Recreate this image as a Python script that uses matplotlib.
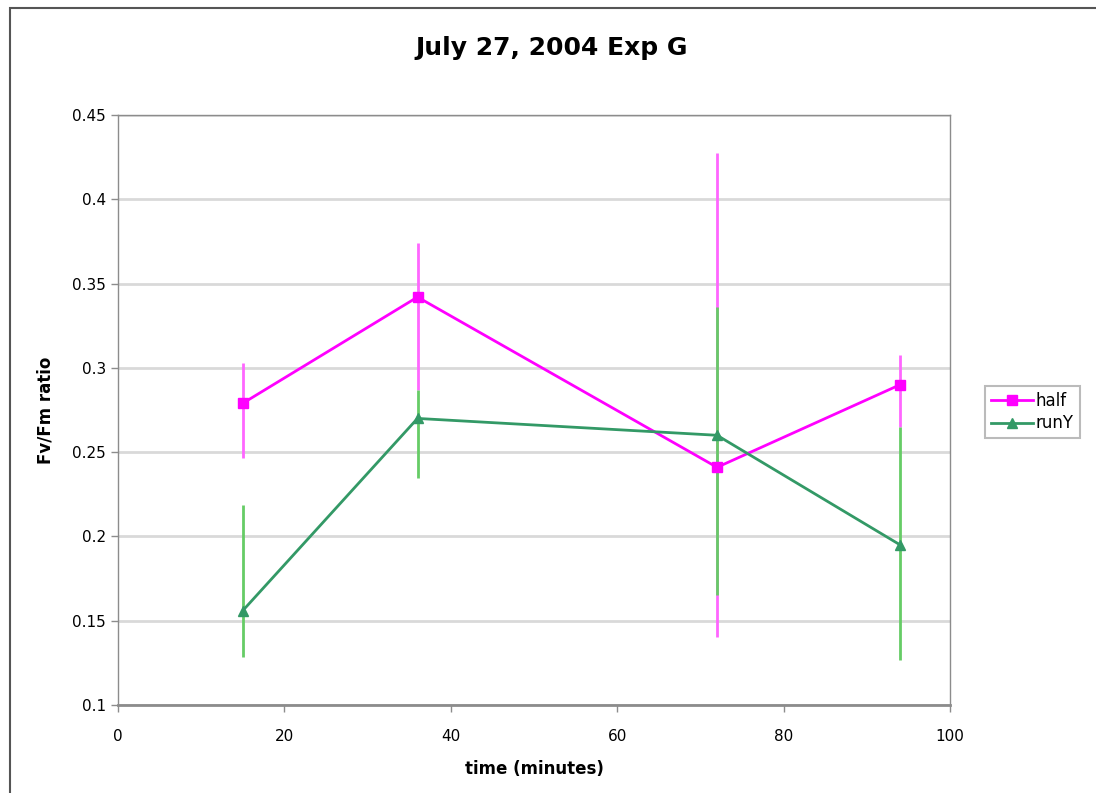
import numpy as np
import matplotlib
matplotlib.use("Agg")
import matplotlib.pyplot as plt
from matplotlib.patches import Rectangle
from matplotlib.lines import Line2D

# ---- data ----
time_min = [15, 36, 72, 94]

half = [0.279, 0.342, 0.241, 0.290]
half_low = [0.2465, 0.287, 0.1406, 0.2647]
half_high = [0.303, 0.374, 0.4275, 0.3076]

runY = [0.156, 0.270, 0.260, 0.195]
runY_low = [0.1287, 0.2347, 0.165, 0.1267]
runY_high = [0.2186, 0.287, 0.336, 0.265]

series_names = ["half", "runY"]
y_ticks = [0.1, 0.15, 0.2, 0.25, 0.3, 0.35, 0.4, 0.45]
x_ticks = [0, 20, 40, 60, 80, 100]

# ---- styling ----
MAGENTA = "#ff00ff"
MAGENTA_ERR = "#ff66ff"
GREEN = "#339966"
GREEN_ERR = "#66cc66"
GRAY = "#8c8c8c"

fig = plt.figure(figsize=(10.96, 7.93), dpi=100)
ax = fig.add_axes([118 / 1096, 1 - 705 / 793, (950 - 118) / 1096, (705 - 115) / 793])

# outer chart frame (partly cropped in the original)
fig.patches.append(Rectangle((10 / 1096, -0.05), 1.2, 1 - 8 / 793 + 0.05,
                             transform=fig.transFigure, fill=False,
                             edgecolor="#555555", linewidth=1.5, zorder=0))

# error bars (plain vertical segments, like Excel custom error bars)
t = np.array(time_min)
ax.vlines(t, half_low, half_high, color=MAGENTA_ERR, linewidth=2, zorder=2)
ax.vlines(t, runY_low, runY_high, color=GREEN_ERR, linewidth=2, zorder=3)

ax.plot(t, half, color=MAGENTA, linewidth=2, marker="s", markersize=7,
        markeredgecolor=MAGENTA, markerfacecolor=MAGENTA, zorder=4)
ax.plot(t, runY, color=GREEN, linewidth=2, marker="^", markersize=7,
        markeredgecolor=GREEN, markerfacecolor=GREEN, zorder=5)

ax.set_xlim(0, 100)
ax.set_ylim(0.1, 0.45)
ax.set_xticks(x_ticks)
ax.set_yticks(y_ticks)
ax.set_xticklabels([str(v) for v in x_ticks])
ax.set_yticklabels([f"{v:g}" for v in y_ticks])

ax.grid(axis="y", color="#d9d9d9", linewidth=2)
ax.set_axisbelow(True)
for side in ["top", "right", "left"]:
    ax.spines[side].set_color(GRAY)
    ax.spines[side].set_linewidth(1)
ax.spines["bottom"].set_color(GRAY)
ax.spines["bottom"].set_linewidth(2)
ax.tick_params(axis="both", colors=GRAY, labelcolor="black", labelsize=11,
               length=5, width=1)
ax.tick_params(axis="x", pad=12)

fig.text(552 / 1096, 1 - 48 / 793, "July 27, 2004 Exp G", fontsize=18,
         fontweight="bold", ha="center", va="center")
ax.set_xlabel("time (minutes)", fontsize=12, fontweight="bold", labelpad=12)
ax.set_ylabel("Fv/Fm ratio", fontsize=12, fontweight="bold", labelpad=13)

handles = [
    Line2D([], [], color=MAGENTA, marker="s", markersize=7, linewidth=2),
    Line2D([], [], color=GREEN, marker="^", markersize=7, linewidth=2),
]
leg = fig.legend(handles, series_names, loc="center left",
                 bbox_to_anchor=(985 / 1096, 1 - 412 / 793), fontsize=12,
                 frameon=True, fancybox=False, handlelength=2.5,
                 handletextpad=0.2, borderpad=0.35, borderaxespad=0,
                 labelspacing=0.3)
leg.get_frame().set_edgecolor("#aaaaaa")
leg.get_frame().set_linewidth(1.5)

fig.savefig("out.png", dpi=100)
